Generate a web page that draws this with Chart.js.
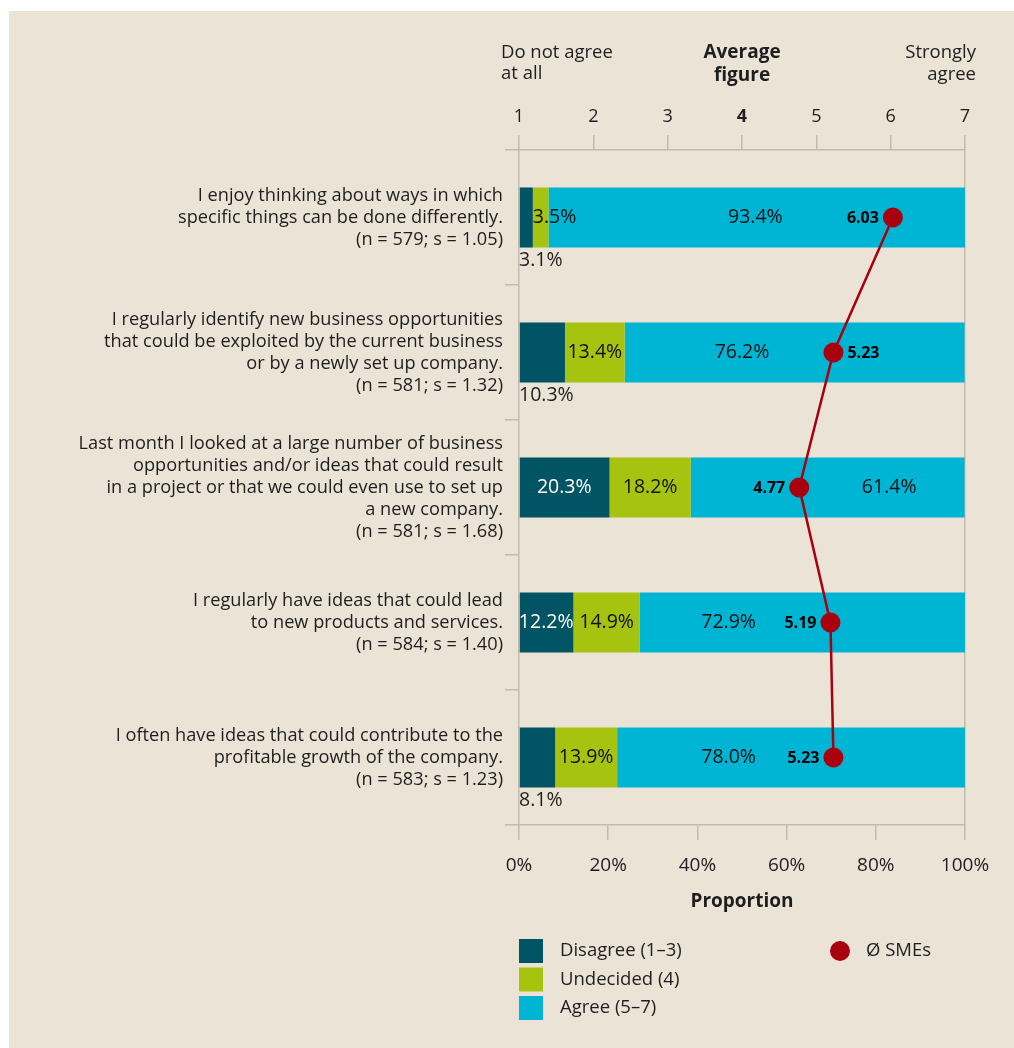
<!DOCTYPE html>
<html>
<head>
<meta charset="utf-8">
<script src="https://cdn.jsdelivr.net/npm/chart.js@4.4.1/dist/chart.umd.min.js"></script>
<style>
    html, body { margin: 0; padding: 0; background: #ffffff; }
    #box { position: absolute; left: 9px; top: 11px; width: 1005px; height: 1037px; background: #ece3d7; }
    #box canvas { display: block; }
</style>
</head>
<body>
<div id="box"><canvas id="grafico" width="1005" height="1037"></canvas></div>
<script>
// categorias (etiquetas del eje izquierdo)
const categorias = [
    ['I enjoy thinking about ways in which', 'specific things can be done differently.', '(n = 579; s = 1.05)'],
    ['I regularly identify new business opportunities', 'that could be exploited by the current business', 'or by a newly set up company.', '(n = 581; s = 1.32)'],
    ['Last month I looked at a large number of business', 'opportunities and/or ideas that could result', 'in a project or that we could even use to set up', 'a new company.', '(n = 581; s = 1.68)'],
    ['I regularly have ideas that could lead', 'to new products and services.', '(n = 584; s = 1.40)'],
    ['I often have ideas that could contribute to the', 'profitable growth of the company.', '(n = 583; s = 1.23)']
];

// valores en %
const desacuerdo = [3.1, 10.3, 20.3, 12.2, 8.1];
const indeciso = [3.5, 13.4, 18.2, 14.9, 13.9];
const acuerdo = [93.4, 76.2, 61.4, 72.9, 78.0];
// promedio (escala 1-7)
const promedio = [6.03, 5.23, 4.77, 5.19, 5.23];

const ticksArriba = [1, 2, 3, 4, 5, 6, 7];
const ticksAbajo = [0, 20, 40, 60, 80, 100];

// colocacion de etiquetas (solo estilo)
const posAcuerdo = [53, 50, 83, 47, 47];
const ladoPromedio = ['left', 'right', 'left', 'left', 'left'];

const FUENTE = '"Open Sans", "Noto Sans", sans-serif';
const TEXTO = '#1e1e1e';
const LINEA = '#c3b9ac';
const C_DES = '#005463';
const C_IND = '#a5c30f';
const C_ACU = '#00b4d4';
const C_ROJO = '#a8000f';

function fmt(v) { return v.toFixed(1) + '%'; }

const etiquetas = {
    id: 'etiquetas',
    afterDatasetsDraw(chart) {
        const ctx = chart.ctx;
        const x = chart.scales.x, x2 = chart.scales.x2, y = chart.scales.y;
        ctx.save();
        ctx.font = '19.5px ' + FUENTE;
        ctx.textBaseline = 'middle';
        for (let i = 0; i < categorias.length; i++) {
            const cy = y.getPixelForValue(i);
            const d0 = x.getPixelForValue(0);
            const d1 = x.getPixelForValue(desacuerdo[i]);
            const i1 = x.getPixelForValue(desacuerdo[i] + indeciso[i]);
            const barH = 60;

            // desacuerdo
            if (desacuerdo[i] >= 12) {
                ctx.fillStyle = '#ffffff';
                ctx.textAlign = 'center';
                ctx.fillText(fmt(desacuerdo[i]), (d0 + d1) / 2, cy);
            } else {
                ctx.fillStyle = TEXTO;
                ctx.textAlign = 'left';
                ctx.fillText(fmt(desacuerdo[i]), d0, cy + barH / 2 + 13);
            }
            // indeciso
            ctx.fillStyle = '#111111';
            if (indeciso[i] < 8) {
                ctx.textAlign = 'left';
                ctx.fillText(fmt(indeciso[i]), d1, cy);
            } else {
                ctx.textAlign = 'center';
                ctx.fillText(fmt(indeciso[i]), (d1 + i1) / 2, cy);
            }
            // acuerdo
            ctx.textAlign = 'center';
            ctx.fillText(fmt(acuerdo[i]), x.getPixelForValue(posAcuerdo[i]), cy);
        }
        // promedio
        ctx.font = 'bold 16px ' + FUENTE;
        ctx.fillStyle = '#000000';
        for (let i = 0; i < promedio.length; i++) {
            const px = x2.getPixelForValue(promedio[i]);
            const py = y.getPixelForValue(i);
            if (ladoPromedio[i] === 'left') {
                ctx.textAlign = 'right';
                ctx.fillText(promedio[i].toFixed(2), px - 14, py + 1);
            } else {
                ctx.textAlign = 'left';
                ctx.fillText(promedio[i].toFixed(2), px + 14, py + 1);
            }
        }
        ctx.restore();
    },
    afterDraw(chart) {
        const ctx = chart.ctx;
        const x = chart.scales.x, x2 = chart.scales.x2;
        ctx.save();
        ctx.fillStyle = TEXTO;
        ctx.textBaseline = 'middle';
        ctx.font = '18.5px ' + FUENTE;
        // textos de arriba
        const izq = x2.getPixelForValue(1) - 18;
        const der = x2.getPixelForValue(7) + 11;
        ctx.textAlign = 'left';
        ctx.fillText('Do not agree', izq, 42);
        ctx.fillText('at all', izq, 63);
        ctx.textAlign = 'right';
        ctx.fillText('Strongly', der, 42);
        ctx.fillText('agree', der, 64);
        ctx.font = 'bold 19px ' + FUENTE;
        ctx.textAlign = 'center';
        ctx.fillText('Average', x2.getPixelForValue(4), 42);
        ctx.fillText('figure', x2.getPixelForValue(4), 65);
        ctx.fillText('Proportion', x.getPixelForValue(50), 891);

        // leyenda
        const lx = x.getPixelForValue(0);
        const items = chart.data.datasets.filter(d => d.type !== 'line');
        ctx.font = '18.5px ' + FUENTE;
        ctx.textAlign = 'left';
        items.forEach((d, k) => {
            const ty = 928 + k * 28.5;
            ctx.fillStyle = d.backgroundColor;
            ctx.fillRect(lx, ty, 24, 24);
            ctx.fillStyle = TEXTO;
            ctx.fillText(d.label, lx + 41, ty + 12);
        });
        const linea = chart.data.datasets.find(d => d.type === 'line');
        ctx.fillStyle = linea.pointBackgroundColor;
        ctx.beginPath();
        ctx.arc(831, 940, 10, 0, Math.PI * 2);
        ctx.fill();
        ctx.fillStyle = TEXTO;
        ctx.fillText(linea.label, 857, 940);
        ctx.restore();
    }
};

const ctx = document.getElementById('grafico');

new Chart(ctx, {
    type: 'bar',
    data: {
        labels: categorias,
        datasets: [
            {
                type: 'line',
                label: 'Ø SMEs',
                data: promedio,
                xAxisID: 'x2',
                yAxisID: 'y',
                indexAxis: 'y',
                borderColor: C_ROJO,
                borderWidth: 2.5,
                pointRadius: 10,
                pointBackgroundColor: C_ROJO,
                pointBorderWidth: 0,
                order: 0
            },
            { label: 'Disagree (1–3)', data: desacuerdo, backgroundColor: C_DES, xAxisID: 'x', order: 1 },
            { label: 'Undecided (4)', data: indeciso, backgroundColor: C_IND, xAxisID: 'x', order: 1 },
            { label: 'Agree (5–7)', data: acuerdo, backgroundColor: C_ACU, xAxisID: 'x', order: 1 }
        ]
    },
    options: {
        indexAxis: 'y',
        responsive: false,
        animation: false,
        barPercentage: 0.445,
        categoryPercentage: 1,
        layout: { padding: { left: 0, right: 49, top: 0, bottom: 0 } },
        plugins: {
            legend: { display: false },
            tooltip: { enabled: false }
        },
        scales: {
            x: {
                position: 'bottom',
                stacked: true,
                min: 0,
                max: 100,
                afterBuildTicks: s => { s.ticks = ticksAbajo.map(v => ({ value: v })); },
                afterFit: s => { s.height = 223; },
                ticks: {
                    callback: v => v + '%',
                    font: { family: FUENTE, size: 19 },
                    color: TEXTO,
                    padding: 14,
                    maxRotation: 0
                },
                grid: { drawOnChartArea: false, color: LINEA, lineWidth: 1.5, tickLength: 15 },
                border: { color: LINEA, width: 1.5 }
            },
            x2: {
                position: 'top',
                type: 'linear',
                min: 1,
                max: 7,
                afterBuildTicks: s => { s.ticks = ticksArriba.map(v => ({ value: v })); },
                afterFit: s => { s.height = 139; },
                ticks: {
                    font: c => ({ family: FUENTE, size: 18, weight: c.tick && c.tick.value === 4 ? 'bold' : 'normal' }),
                    color: TEXTO,
                    padding: 7,
                    maxRotation: 0
                },
                grid: { drawOnChartArea: false, color: LINEA, lineWidth: 1.5, tickLength: 15 },
                border: { color: LINEA, width: 1.5 }
            },
            y: {
                stacked: true,
                offset: true,
                afterFit: s => { s.width = 510; },
                ticks: {
                    font: { family: FUENTE, size: 18.2, lineHeight: 1.21 },
                    color: TEXTO,
                    padding: 2
                },
                grid: { offset: true, drawOnChartArea: false, color: LINEA, lineWidth: 1.5, tickLength: 14 },
                border: { color: LINEA, width: 1.5 }
            },
            yDer: {
                type: 'category',
                position: 'right',
                offset: true,
                afterFit: s => { s.width = 0; },
                ticks: { display: false },
                grid: { display: false },
                border: { color: LINEA, width: 1.5 }
            }
        }
    },
    plugins: [etiquetas]
});
</script>
</body>
</html>
